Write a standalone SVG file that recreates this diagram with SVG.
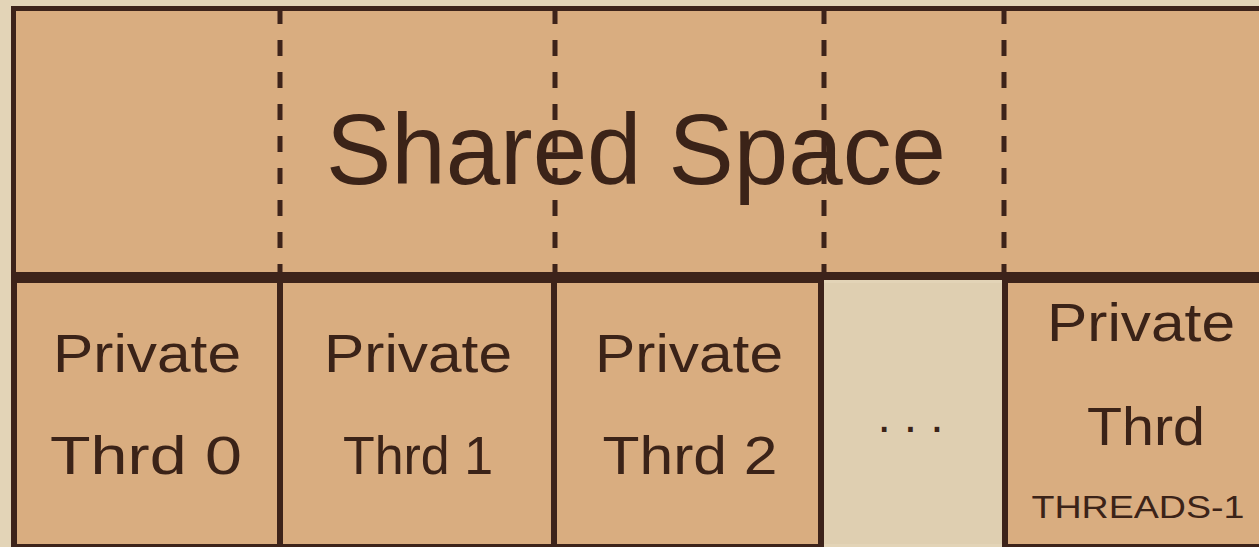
<svg xmlns="http://www.w3.org/2000/svg" width="1259" height="547" viewBox="0 0 1259 547">
<style>
.bg{fill:#e3d4b7}
.box{fill:#d9ad80;stroke:#3d231a;stroke-width:6}
.top{fill:#d9ad80;stroke:#3d231a;stroke-width:5}
.gray{fill:#dfcfb1}
.dash{stroke:#3d231a;stroke-width:5;stroke-dasharray:16 16;fill:none}
.t{font-family:"Liberation Sans",Arial,sans-serif;fill:#3b2318;text-anchor:middle}
.big{font-size:100px}
.mid{font-size:53px}
.sm{font-size:32px}
</style>
<rect class="bg" x="0" y="0" width="1259" height="547"/>
<g id="shared">
<rect class="top" x="13.5" y="8.5" width="1260" height="266"/>
<g id="dividers">
<line class="dash" x1="280" y1="8" x2="280" y2="273"/>
<line class="dash" x1="555" y1="8" x2="555" y2="273"/>
<line class="dash" x1="824" y1="8" x2="824" y2="273"/>
<line class="dash" x1="1004" y1="8" x2="1004" y2="273"/>
</g>
<text class="t big" x="636" y="184" textLength="620" lengthAdjust="spacingAndGlyphs">Shared Space</text>
</g>
<g id="thrd0">
<rect class="box" x="14" y="280" width="266" height="267"/>
<text class="t mid" x="147" y="372" textLength="188" lengthAdjust="spacingAndGlyphs">Private</text>
<text class="t mid" x="146" y="474" textLength="192" lengthAdjust="spacingAndGlyphs">Thrd 0</text>
</g>
<g id="thrd1">
<rect class="box" x="280" y="280" width="274" height="267"/>
<text class="t mid" x="418" y="372" textLength="188" lengthAdjust="spacingAndGlyphs">Private</text>
<text class="t mid" x="418" y="474" textLength="150" lengthAdjust="spacingAndGlyphs">Thrd 1</text>
</g>
<g id="thrd2">
<rect class="box" x="554" y="280" width="267" height="267"/>
<text class="t mid" x="689" y="372" textLength="188" lengthAdjust="spacingAndGlyphs">Private</text>
<text class="t mid" x="690" y="474" textLength="175" lengthAdjust="spacingAndGlyphs">Thrd 2</text>
</g>
<g id="ellipsis">
<rect class="gray" x="824" y="283" width="178" height="261"/>
<line x1="821" y1="277" x2="1005" y2="277" stroke="#3d231a" stroke-width="6"/>
<text class="t" x="917" y="432" font-size="48" letter-spacing="13">...</text>
</g>
<g id="thrdN">
<rect class="box" x="1005" y="280" width="260" height="267"/>
<text class="t mid" x="1141" y="341" textLength="188" lengthAdjust="spacingAndGlyphs">Private</text>
<text class="t mid" x="1146" y="445" textLength="118" lengthAdjust="spacingAndGlyphs">Thrd</text>
<text class="t sm" x="1138" y="518" textLength="213" lengthAdjust="spacingAndGlyphs">THREADS-1</text>
</g>
</svg>
